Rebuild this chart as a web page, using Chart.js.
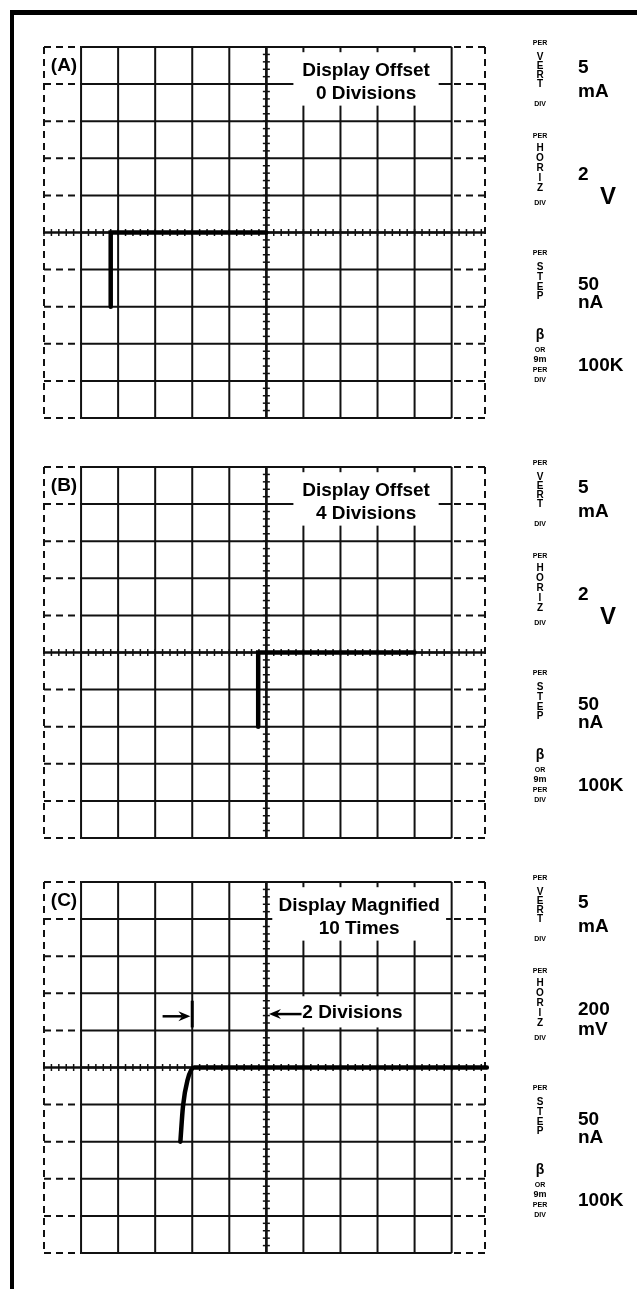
<!DOCTYPE html>
<html>
<head>
<meta charset="utf-8">
<script src="https://cdn.jsdelivr.net/npm/chart.js@4.4.1/dist/chart.umd.min.js"></script>
<style>
    html, body { margin: 0; padding: 0; background: #fff; overflow: hidden; }
    body { width: 637px; height: 1289px; position: relative; }
    .frame { position: absolute; left: 10px; top: 10px; width: 700px; height: 1400px;
             border-top: 5px solid #000; border-left: 4px solid #000; }
    canvas { position: absolute; left: 0; }
</style>
</head>
<body>
<div class="frame"></div>
<canvas id="panelA" width="637" height="419" style="top:7px"></canvas>
<canvas id="panelB" width="637" height="419" style="top:427px"></canvas>
<canvas id="panelC" width="637" height="419" style="top:842px"></canvas>
<script>

    // Data

    var panelLetters = ['(A)', '(B)', '(C)'];

    var traceAX = [-4.2, -4.2, 0];
    var traceAY = [-2, 0, 0];
    var traceBX = [-0.22, -0.22, 4];
    var traceBY = [-2, 0, 0];
    var traceCX = [-2.32, -2.25, -2.13, -1.95, 5.95];
    var traceCY = [-2, -1.05, -0.35, 0, 0];

    var noteText = [
        ['Display Offset', '0 Divisions'],
        ['Display Offset', '4 Divisions'],
        ['Display Magnified', '10 Times']
    ];

    var vertValue = ['5', '5', '5'];
    var vertUnit = ['mA', 'mA', 'mA'];
    var horizValue = ['2', '2', '200'];
    var horizUnit = ['V', 'V', 'mV'];
    var stepValue = ['50', '50', '50'];
    var stepUnit = ['nA', 'nA', 'nA'];
    var betaValue = ['100K', '100K', '100K'];

    var divisionNote = '2 Divisions';


    // Helpers

    var FONT = '"Liberation Sans", Arial, sans-serif';

    function seg(ctx, x1, y1, x2, y2) {
        ctx.beginPath();
        ctx.moveTo(x1, y1);
        ctx.lineTo(x2, y2);
        ctx.stroke();
    }

    function arrow(ctx, x1, y, x2) {
        // shaft from x1 to x2, head at x2
        var dir = x2 > x1 ? 1 : -1;
        ctx.lineWidth = 2.5;
        seg(ctx, x1, y, x2 - dir * 8, y);
        ctx.beginPath();
        ctx.moveTo(x2, y);
        ctx.lineTo(x2 - dir * 12, y - 5);
        ctx.lineTo(x2 - dir * 8, y);
        ctx.lineTo(x2 - dir * 12, y + 5);
        ctx.closePath();
        ctx.fill();
    }

    function toPoints(xs, ys) {
        return xs.map(function (x, i) { return { x: x, y: ys[i] }; });
    }


    // Graticule plugin

    var graticule = {
        id: 'graticule',
        beforeDatasetsDraw: function (chart, args, opts) {
            var ctx = chart.ctx;
            var px = function (v) { return chart.scales.x.getPixelForValue(v); };
            var py = function (v) { return chart.scales.y.getPixelForValue(v); };
            var i, t;

            ctx.save();
            ctx.strokeStyle = '#111';
            ctx.fillStyle = '#111';
            ctx.lineWidth = 2;

            for (i = -5; i <= 5; i++) {
                seg(ctx, px(-5), py(i), px(5), py(i));
                seg(ctx, px(i), py(-5), px(i), py(5));
            }

            ctx.setLineDash([7, 5]);
            for (i = -5; i <= 5; i++) {
                if (i === 0) continue;
                seg(ctx, px(-6), py(i), px(-5), py(i));
                seg(ctx, px(5.9), py(i), px(5), py(i));
            }
            seg(ctx, px(-6), py(5), px(-6), py(-5));
            seg(ctx, px(5.9), py(5), px(5.9), py(-5));
            ctx.setLineDash([]);

            // centre lines with minor ticks
            ctx.lineWidth = 2.5;
            seg(ctx, px(-6), py(0), px(5.9), py(0));
            seg(ctx, px(0), py(-5), px(0), py(5));
            ctx.lineWidth = 1.5;
            for (t = -30; t <= 29; t++) {
                seg(ctx, px(t / 5), py(0) - 3.5, px(t / 5), py(0) + 3.5);
            }
            for (t = -25; t <= 25; t++) {
                seg(ctx, px(0) - 3.5, py(t / 5), px(0) + 3.5, py(t / 5));
            }

            // note box
            var b = opts.box;
            ctx.fillStyle = '#fff';
            ctx.fillRect(px(b[0]), py(4.86), px(b[1]) - px(b[0]), py(3.42) - py(4.86));
            ctx.fillStyle = '#000';
            ctx.font = 'bold 19px ' + FONT;
            ctx.textAlign = 'center';
            ctx.textBaseline = 'middle';
            var cx = px((b[0] + b[1]) / 2);
            ctx.fillText(opts.lines[0], cx, py(4.36));
            ctx.fillText(opts.lines[1], cx, py(3.73));

            // panel letter
            ctx.fillText(opts.letter, px(-5.46), py(4.5));

            if (opts.spanNote) {
                ctx.fillStyle = '#fff';
                ctx.fillRect(px(0.55), py(1.92), px(3.85) - px(0.55), py(1.08) - py(1.92));
                ctx.fillStyle = '#000';
                ctx.strokeStyle = '#000';
                ctx.textAlign = 'left';
                ctx.fillText(opts.spanNote, px(0.97), py(1.47));
                arrow(ctx, px(0.95), py(1.44), px(0.07));
                arrow(ctx, px(-2.8), py(1.38), px(-2.05));
                ctx.lineWidth = 3;
                seg(ctx, px(-2), py(1.8), px(-2), py(1.08));
            }
            ctx.restore();
        },
        afterDraw: function (chart, args, opts) {
            var ctx = chart.ctx;
            var T = chart.chartArea.top;
            var cx = 540, vx = 578;
            var small = 'bold 7px ' + FONT;
            var mid = 'bold 10px ' + FONT;
            var big = 'bold 19px ' + FONT;

            function col(items) {
                items.forEach(function (it) {
                    ctx.font = it[2];
                    ctx.fillText(it[0], cx, T + it[1]);
                });
            }

            ctx.save();
            ctx.fillStyle = '#000';
            ctx.textAlign = 'center';
            ctx.textBaseline = 'middle';

            col([['PER', -4, small], ['V', 10, mid], ['E', 19, mid], ['R', 28, mid],
                 ['T', 37, mid], ['DIV', 57, small]]);
            col([['PER', 89, small], ['H', 101, mid], ['O', 111, mid], ['R', 121, mid],
                 ['I', 131, mid], ['Z', 141, mid], ['DIV', 156, small]]);
            col([['PER', 206, small], ['S', 220, mid], ['T', 230, mid], ['E', 240, mid],
                 ['P', 249, mid]]);
            col([['\u03B2', 288, 'bold 14px ' + FONT], ['OR', 303, small], ['9m', 313, 'bold 9px ' + FONT],
                 ['PER', 323, small], ['DIV', 333, small]]);

            ctx.textAlign = 'left';
            ctx.font = big;
            ctx.fillText(opts.vert[0], vx, T + 21);
            ctx.fillText(opts.vert[1], vx, T + 45);
            ctx.fillText(opts.horiz[0], vx, T + 128);
            if (opts.horiz[1] === 'V') {
                ctx.font = 'bold 24px ' + FONT;
                ctx.fillText(opts.horiz[1], vx + 22, T + 150);
                ctx.font = big;
            } else {
                ctx.fillText(opts.horiz[1], vx, T + 148);
            }
            ctx.fillText(opts.step[0], vx, T + 238);
            ctx.fillText(opts.step[1], vx, T + 256);
            ctx.fillText(opts.beta, vx, T + 319);
            ctx.restore();
        }
    };


    // Charts

    function init(id, k, points, tension, box) {
        return new Chart(document.getElementById(id), {
            type: 'line',
            data: {
                datasets: [{
                    data: points,
                    borderColor: '#000',
                    borderWidth: 4.5,
                    pointRadius: 0,
                    tension: tension,
                    cubicInterpolationMode: tension ? 'monotone' : 'default',
                    borderCapStyle: 'round',
                    clip: false
                }]
            },
            options: {
                responsive: false,
                animation: false,
                events: [],
                layout: { padding: { left: 44, right: 152, top: 40, bottom: 8 } },
                scales: {
                    x: { type: 'linear', min: -6, max: 5.9, display: false },
                    y: { type: 'linear', min: -5, max: 5, display: false }
                },
                plugins: {
                    legend: { display: false },
                    tooltip: { enabled: false },
                    graticule: {
                        letter: panelLetters[k],
                        lines: noteText[k],
                        box: box,
                        spanNote: k === 2 ? divisionNote : null,
                        vert: [vertValue[k], vertUnit[k]],
                        horiz: [horizValue[k], horizUnit[k]],
                        step: [stepValue[k], stepUnit[k]],
                        beta: betaValue[k]
                    }
                }
            },
            plugins: [graticule]
        });
    }

    init('panelA', 0, toPoints(traceAX, traceAY), 0, [0.73, 4.65]);
    init('panelB', 1, toPoints(traceBX, traceBY), 0, [0.73, 4.65]);
    init('panelC', 2, toPoints(traceCX, traceCY), 0.4, [0.16, 4.85]);

</script>
</body>
</html>
